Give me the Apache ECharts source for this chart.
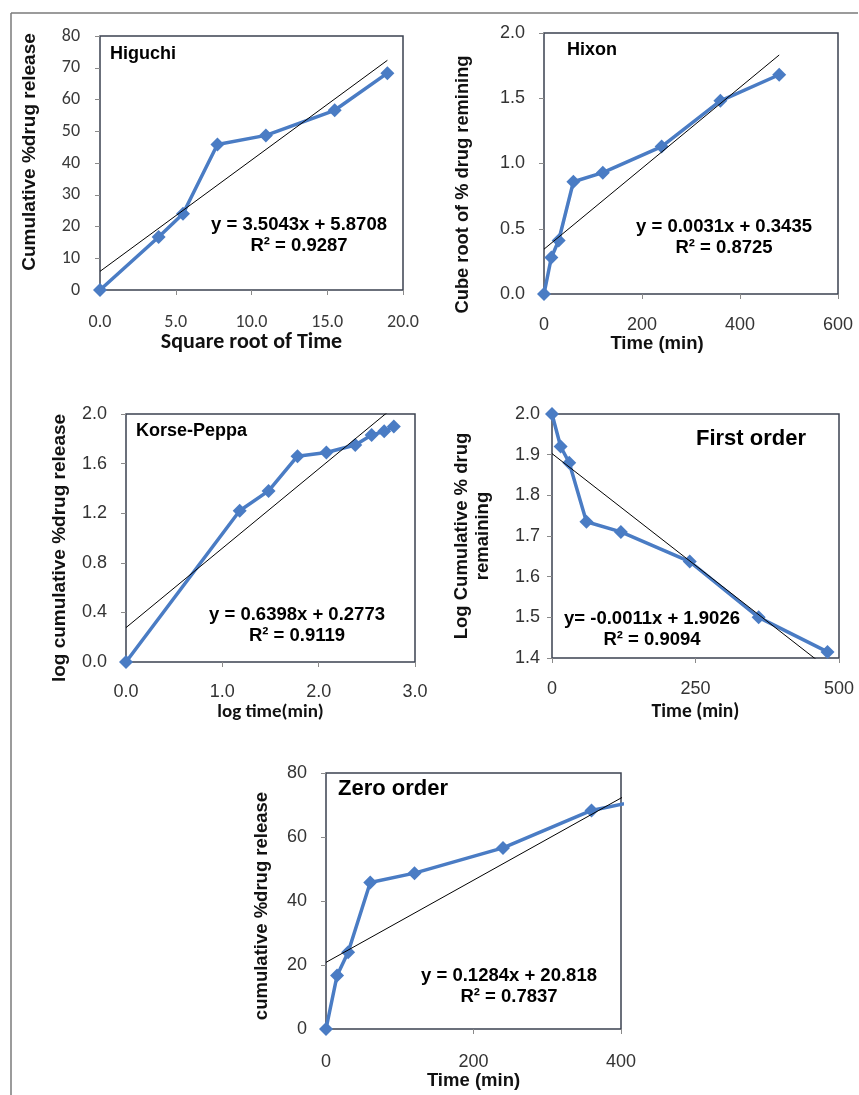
<!DOCTYPE html>
<html>
<head>
<meta charset="utf-8">
<script src="https://cdn.jsdelivr.net/npm/echarts@6/dist/echarts.min.js"></script>
<style>
html,body{margin:0;padding:0;background:#fff;}
#chart{width:859px;height:1095px;}
</style>
</head>
<body>
<div id="chart"></div>
<script>
// ---------- data ----------
const higuchiX = [0, 3.87, 5.48, 7.75, 10.95, 15.49, 18.97];
const higuchiY = [0, 16.7, 24.0, 45.8, 48.7, 56.6, 68.3];
const higuchiFit = { slope: 3.5043, intercept: 5.8708, r2: 0.9287 };

const hixonX = [0, 15, 30, 60, 120, 240, 360, 480];
const hixonY = [0, 0.28, 0.41, 0.86, 0.93, 1.13, 1.48, 1.68];
const hixonFit = { slope: 0.0031, intercept: 0.3435, r2: 0.8725 };

const korseX = [0, 1.18, 1.48, 1.78, 2.08, 2.38, 2.55, 2.68, 2.78];
const korseY = [0, 1.22, 1.38, 1.66, 1.69, 1.75, 1.83, 1.86, 1.90];
const korseFit = { slope: 0.6398, intercept: 0.2773, r2: 0.9119 };

const firstX = [0, 15, 30, 60, 120, 240, 360, 480];
const firstY = [2.0, 1.92, 1.88, 1.735, 1.71, 1.637, 1.50, 1.415];
const firstFit = { slope: -0.0011, intercept: 1.9026, r2: 0.9094 };

const zeroX = [0, 15, 30, 60, 120, 240, 360, 480];
const zeroY = [0, 16.7, 24.0, 45.8, 48.7, 56.6, 68.3, 74.0];
const zeroFit = { slope: 0.1284, intercept: 20.818, r2: 0.7837 };

const panelTitles = ['Higuchi', 'Hixon', 'Korse-Peppa', 'First order', 'Zero order'];
const xTitles = ['Square root of Time', 'Time (min)', 'log time(min)', 'Time (min)', 'Time (min)'];
const yTitles = ['Cumulative %drug release', 'Cube root of % drug remining', 'log cumulative %drug release', 'Log Cumulative % drug\nremaining', 'cumulative %drug release'];
const equations = ['y = 3.5043x + 5.8708', 'y = 0.0031x + 0.3435', 'y = 0.6398x + 0.2773', 'y= -0.0011x + 1.9026', 'y = 0.1284x + 20.818'];
const r2Labels = ['R² = 0.9287', 'R² = 0.8725', 'R² = 0.9119', 'R² = 0.9094', 'R² = 0.7837'];

// ---------- layout / style ----------
const BLUE = '#4a7cc4';
const ARIAL = '"Liberation Sans", Arial, sans-serif';
const CALIBRI = 'Carlito, Lato, "Open Sans", sans-serif';

const panels = [
  { xs: higuchiX, ys: higuchiY, fit: higuchiFit, grid: {left:100, top:36, width:303, height:254},
    x: {min:0, max:20, interval:5, dec:1}, y: {min:0, max:80, interval:10, dec:0},
    font: CALIBRI, tickSize: 18, tickColor: '#3a3a3a', xNameFont: CALIBRI, xNameSize: 22, xGap: 41, xLabMargin: 23, yLabMargin: 20,
    yGap: 60, yPad: [0,0,0,22], xPad: 0, ySize: 19,
    title: {x:110, y:56, size:18}, eq: {x:299, y:225} },
  { xs: hixonX, ys: hixonY, fit: hixonFit, grid: {left:544, top:33, width:294, height:261},
    x: {min:0, max:600, interval:200, dec:0}, y: {min:0, max:2, interval:0.5, dec:1},
    font: ARIAL, tickSize: 18, tickColor: '#333', xNameFont: ARIAL, xNameSize: 18.5, xGap: 40, xLabMargin: 22, yLabMargin: 19,
    yGap: 71, yPad: [0,42,0,0], xPad: 68, ySize: 18.3,
    title: {x:567, y:52, size:18}, eq: {x:724, y:227} },
  { xs: korseX, ys: korseY, fit: korseFit, grid: {left:126, top:414, width:289, height:248},
    x: {min:0, max:3, interval:1, dec:1}, y: {min:0, max:2, interval:0.4, dec:1},
    font: ARIAL, tickSize: 18, tickColor: '#333', xNameFont: CALIBRI, xNameSize: 19, xGap: 41, xLabMargin: 21, yLabMargin: 19,
    yGap: 56, yPad: [0,20,0,0], xPad: 0, ySize: 19,
    title: {x:136, y:433, size:18}, eq: {x:297, y:615} },
  { xs: firstX, ys: firstY, fit: firstFit, grid: {left:552, top:414, width:287, height:244},
    x: {min:0, max:500, interval:250, dec:0}, y: {min:1.4, max:2.0, interval:0.1, dec:1},
    font: ARIAL, tickSize: 18, tickColor: '#333', xNameFont: CALIBRI, xNameSize: 19.5, xGap: 44, xLabMargin: 22, yLabMargin: 12,
    yGap: 59, yPad: 0, xPad: 0, ySize: 18.5,
    title: {x:696, y:441, size:22}, eq: {x:652, y:619} },
  { xs: zeroX, ys: zeroY, fit: zeroFit, grid: {left:326, top:773, width:295, height:256},
    x: {min:0, max:400, interval:200, dec:0}, y: {min:0, max:80, interval:20, dec:0},
    font: ARIAL, tickSize: 18, tickColor: '#333', xNameFont: ARIAL, xNameSize: 18.5, xGap: 42, xLabMargin: 24, yLabMargin: 19,
    yGap: 54, yPad: [0,10,0,0], xPad: 0, ySize: 18.5,
    title: {x:338, y:791, size:22}, eq: {x:509, y:976} }
];

const grids = [], xAxes = [], yAxes = [], series = [], graphics = [];

panels.forEach((p, i) => {
  grids.push(Object.assign({ show: true, borderColor: '#3b4250', borderWidth: 1.5, backgroundColor: 'transparent' }, p.grid));
  xAxes.push({
    type: 'value', gridIndex: i, min: p.x.min, max: p.x.max, interval: p.x.interval,
    axisLine: { show: false }, splitLine: { show: false },
    axisTick: { show: true, length: 5, lineStyle: { color: '#8a8a8a', width: 1 } },
    axisLabel: { margin: p.xLabMargin, fontSize: p.tickSize, fontFamily: p.font, color: p.tickColor,
      formatter: v => v.toFixed(p.x.dec) },
    name: xTitles[i], nameLocation: 'middle', nameGap: p.xGap,
    nameTextStyle: { fontSize: p.xNameSize, fontWeight: 'bold', fontFamily: p.xNameFont, color: '#111',
      padding: [0, p.xPad, 0, 0] }
  });
  yAxes.push({
    type: 'value', gridIndex: i, min: p.y.min, max: p.y.max, interval: p.y.interval,
    axisLine: { show: false }, splitLine: { show: false },
    axisTick: { show: true, length: 5, lineStyle: { color: '#8a8a8a', width: 1 } },
    axisLabel: { margin: p.yLabMargin, fontSize: p.tickSize, fontFamily: p.font, color: p.tickColor,
      formatter: v => v.toFixed(p.y.dec) },
    name: yTitles[i], nameLocation: 'middle', nameRotate: 90, nameGap: p.yGap,
    nameTextStyle: { fontSize: p.ySize, fontWeight: 'bold', fontFamily: ARIAL, color: '#111',
      lineHeight: 21, padding: p.yPad, align: 'center' }
  });
  series.push({
    type: 'line', xAxisIndex: i, yAxisIndex: i, clip: true,
    data: p.xs.map((x, k) => [x, p.ys[k]]),
    symbol: 'diamond', symbolSize: 14, showSymbol: true,
    lineStyle: { color: BLUE, width: 3.5 }, itemStyle: { color: BLUE },
    z: 3, animation: false
  });
  const x0 = p.xs[0], x1 = p.xs[p.xs.length - 1];
  series.push({
    type: 'line', xAxisIndex: i, yAxisIndex: i, clip: true,
    data: [[x0, p.fit.intercept + p.fit.slope * x0], [x1, p.fit.intercept + p.fit.slope * x1]],
    symbol: 'none', lineStyle: { color: '#000', width: 1 }, z: 4, animation: false
  });
  graphics.push({
    type: 'text', left: p.title.x, top: p.title.y - p.title.size / 2 - 2, z: 10,
    style: { text: panelTitles[i], font: `bold ${p.title.size}px ${ARIAL}`, fill: '#000' }
  });
  graphics.push({
    type: 'text', x: p.eq.x, y: p.eq.y, z: 10,
    style: { text: equations[i], font: `bold 18.5px ${ARIAL}`, fill: '#000', textAlign: 'center', textVerticalAlign: 'middle' }
  });
  graphics.push({
    type: 'text', x: p.eq.x, y: p.eq.y + 21, z: 10,
    style: { text: r2Labels[i], font: `bold 18.5px ${ARIAL}`, fill: '#000', textAlign: 'center', textVerticalAlign: 'middle' }
  });
});

// outer frame (top and left edges)
graphics.push({ type: 'line', shape: { x1: 11, y1: 13, x2: 858, y2: 13 }, style: { stroke: '#7a7a7a', lineWidth: 1.5 } });
graphics.push({ type: 'line', shape: { x1: 11, y1: 13, x2: 11, y2: 1095 }, style: { stroke: '#7a7a7a', lineWidth: 1.5 } });

const chart = echarts.init(document.getElementById('chart'), null, { renderer: 'canvas' });
chart.setOption({
  animation: false,
  backgroundColor: '#fff',
  grid: grids, xAxis: xAxes, yAxis: yAxes, series: series, graphic: graphics
});
</script>
</body>
</html>
